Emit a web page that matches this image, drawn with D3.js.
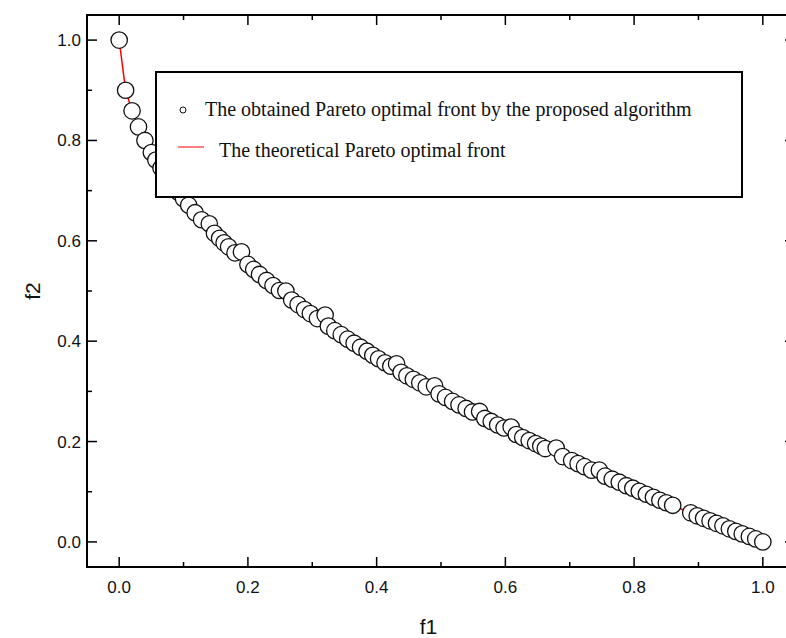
<!DOCTYPE html>
<meta charset="utf-8">
<style>
  body { margin: 0; background: #fff; }
  svg { display: block; }
  .tick-label { font: 17px Arial, "Liberation Sans", sans-serif; fill: #111; }
  .axis-title { font: 21px Arial, "Liberation Sans", sans-serif; fill: #111; }
  .legend-text { font: 20px "Times New Roman", "Liberation Serif", serif; fill: #111; }
</style>
<body>
<script src="https://d3js.org/d3.v7.min.js"></script>
<script>
// obtained front
var f1 = [0, 0.01, 0.02, 0.03, 0.04, 0.05, 0.057, 0.065, 0.074, 0.083, 0.092, 0.1, 0.108, 0.118, 0.128,
  0.14, 0.148, 0.156, 0.163, 0.17, 0.18, 0.19, 0.2, 0.209, 0.218, 0.229, 0.239, 0.249, 0.259, 0.268,
  0.278, 0.288, 0.297, 0.308, 0.32, 0.325, 0.335, 0.345, 0.355, 0.365, 0.375, 0.385, 0.394, 0.403,
  0.413, 0.422, 0.431, 0.438, 0.447, 0.457, 0.467, 0.477, 0.49, 0.497, 0.507, 0.518, 0.528, 0.539,
  0.549, 0.56, 0.568, 0.578, 0.588, 0.598, 0.609, 0.617, 0.627, 0.637, 0.647, 0.655, 0.662, 0.679,
  0.689, 0.703, 0.713, 0.723, 0.734, 0.746, 0.755, 0.766, 0.777, 0.788, 0.798, 0.808, 0.819, 0.83,
  0.84, 0.85, 0.86, 0.888, 0.898, 0.908, 0.918, 0.928, 0.938, 0.948, 0.958, 0.968, 0.979, 0.989, 1.0];
var f2 = [1, 0.9, 0.859, 0.827, 0.8, 0.776, 0.761, 0.745, 0.728, 0.712, 0.697, 0.684, 0.671, 0.656, 0.642,
  0.634, 0.615, 0.605, 0.596, 0.588, 0.576, 0.578, 0.553, 0.543, 0.533, 0.521, 0.511, 0.501, 0.5, 0.482,
  0.473, 0.463, 0.455, 0.445, 0.452, 0.43, 0.421, 0.413, 0.404, 0.396, 0.388, 0.38, 0.372, 0.365,
  0.357, 0.35, 0.355, 0.338, 0.331, 0.324, 0.317, 0.309, 0.311, 0.295, 0.288, 0.28, 0.273, 0.266,
  0.259, 0.26, 0.246, 0.24, 0.233, 0.227, 0.229, 0.214, 0.208, 0.202, 0.196, 0.191, 0.186, 0.187,
  0.17, 0.162, 0.156, 0.15, 0.143, 0.143, 0.131, 0.125, 0.119, 0.112, 0.107, 0.101, 0.095, 0.089,
  0.083, 0.078, 0.073, 0.058, 0.052, 0.047, 0.042, 0.037, 0.032, 0.026, 0.021, 0.016, 0.011, 0.006, 0];

// theoretical front
var thF1 = [0, 0.01, 0.02, 0.03, 0.05, 0.08, 0.12, 0.17, 0.23, 0.3, 0.4, 0.5, 0.6, 0.7, 0.8, 0.85, 0.87, 0.88, 0.9, 0.95, 1.0];
var thF2 = [1, 0.9, 0.859, 0.827, 0.776, 0.717, 0.654, 0.588, 0.52, 0.452, 0.368, 0.293, 0.225, 0.163, 0.106, 0.078, 0.067, 0.062, 0.051, 0.025, 0];

var majorTicks = [0, 0.2, 0.4, 0.6, 0.8, 1.0];
var minorTicks = [0.1, 0.3, 0.5, 0.7, 0.9];
var legendLabels = ["The obtained Pareto optimal front by the proposed algorithm",
                    "The theoretical Pareto optimal front"];

var width = 786, height = 638;
var pLeft = 87, pRight = 795, pTop = 15, pBottom = 567;

var svg = d3.select("body").append("svg")
  .attr("width", width)
  .attr("height", height);

var x = d3.scaleLinear().domain([-0.05, 1.05]).range([pLeft, pRight]);
var y = d3.scaleLinear().domain([-0.05, 1.05]).range([pBottom, pTop]);

var fmt = d3.format(".1f");

// theoretical line
var line = d3.line()
  .x(function(d){ return x(d[0]); })
  .y(function(d){ return y(d[1]); });

svg.append("path")
  .datum(d3.zip(thF1, thF2))
  .attr("d", line)
  .attr("fill", "none")
  .attr("stroke", "#ff0000")
  .attr("stroke-width", 1.5);

// points
svg.selectAll("circle.pt")
  .data(d3.zip(f1, f2))
  .enter().append("circle")
  .attr("class", "pt")
  .attr("cx", function(d){ return x(d[0]); })
  .attr("cy", function(d){ return y(d[1]); })
  .attr("r", 8.2)
  .attr("fill", "#fff")
  .attr("stroke", "#111")
  .attr("stroke-width", 1.3);

// ticks (all pointing inward)
function ticks(vals, len) {
  vals.forEach(function(v){
    svg.append("line").attr("x1", x(v)).attr("x2", x(v)).attr("y1", pBottom).attr("y2", pBottom - len)
      .attr("stroke", "#000").attr("stroke-width", 1.5);
    svg.append("line").attr("x1", x(v)).attr("x2", x(v)).attr("y1", pTop).attr("y2", pTop + len)
      .attr("stroke", "#000").attr("stroke-width", 1.5);
    svg.append("line").attr("y1", y(v)).attr("y2", y(v)).attr("x1", pLeft).attr("x2", pLeft + len)
      .attr("stroke", "#000").attr("stroke-width", 1.5);
    svg.append("line").attr("y1", y(v)).attr("y2", y(v)).attr("x1", pRight).attr("x2", pRight - len)
      .attr("stroke", "#000").attr("stroke-width", 1.5);
  });
}
ticks(majorTicks, 10);
ticks(minorTicks, 5);

// frame
svg.append("rect")
  .attr("x", pLeft).attr("y", pTop)
  .attr("width", pRight - pLeft).attr("height", pBottom - pTop)
  .attr("fill", "none").attr("stroke", "#000").attr("stroke-width", 2);

// tick labels
svg.selectAll("text.xl").data(majorTicks).enter().append("text")
  .attr("class", "tick-label")
  .attr("x", function(d){ return x(d); })
  .attr("y", pBottom + 26)
  .attr("text-anchor", "middle")
  .text(fmt);

svg.selectAll("text.yl").data(majorTicks).enter().append("text")
  .attr("class", "tick-label")
  .attr("x", pLeft - 6)
  .attr("y", function(d){ return y(d) + 6; })
  .attr("text-anchor", "end")
  .text(fmt);

// axis titles
svg.append("text").attr("class", "axis-title")
  .attr("x", (pLeft + 770) / 2).attr("y", 634)
  .attr("text-anchor", "middle").text("f1");

svg.append("text").attr("class", "axis-title")
  .attr("transform", "translate(40," + ((pTop + pBottom) / 2) + ") rotate(-90)")
  .attr("text-anchor", "middle").text("f2");

// legend
var lg = svg.append("g");
lg.append("rect")
  .attr("x", 156).attr("y", 72).attr("width", 586).attr("height", 125)
  .attr("fill", "#fff").attr("stroke", "#000").attr("stroke-width", 2);
lg.append("circle")
  .attr("cx", 183).attr("cy", 110).attr("r", 3)
  .attr("fill", "#fff").attr("stroke", "#111").attr("stroke-width", 1);
lg.append("text").attr("class", "legend-text")
  .attr("x", 205).attr("y", 116).text(legendLabels[0]);
lg.append("line")
  .attr("x1", 178).attr("x2", 204).attr("y1", 147).attr("y2", 147)
  .attr("stroke", "#ff0000").attr("stroke-width", 1);
lg.append("text").attr("class", "legend-text")
  .attr("x", 219).attr("y", 157).text(legendLabels[1]);
</script>
</body>
